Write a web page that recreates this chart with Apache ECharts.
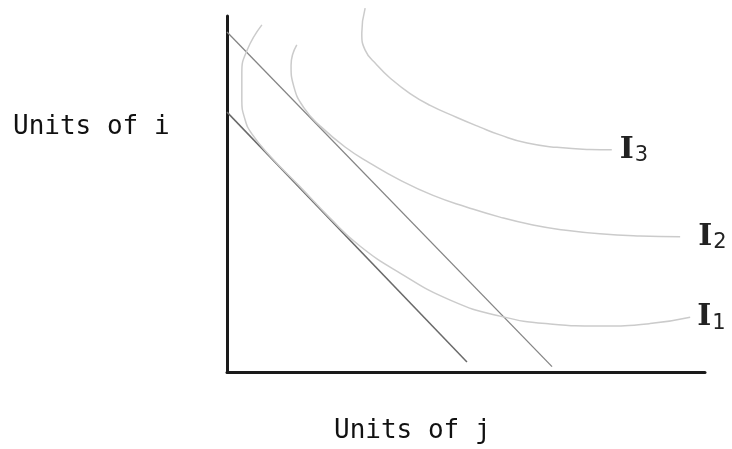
<!DOCTYPE html>
<html>
<head>
<meta charset="utf-8">
<script src="https://cdn.jsdelivr.net/npm/echarts@6/dist/echarts.min.js"></script>
<style>
	html,body{margin:0;padding:0;background:#fff;}
	#main{width:732px;height:449px;}
</style>
</head>
<body>
<div id="main"></div>
<script>
	// budget lines (units of j, units of i)
	var budgetLow = [[0, 73], [50.2, 2.8]];
	var budgetHigh = [[0, 95.5], [68, 1.5]];
	// indifference curves
	var curveI1 = [[7.3, 97.5], [4.2, 90.4], [3.1, 84.0], [3.1, 76.4], [3.8, 70.8], [5.2, 66.9],
		[9.0, 60.7], [15.3, 52.0], [21.5, 43.3], [27.8, 35.4], [36.2, 27.8], [46.7, 20.2],
		[57.1, 15.7], [67.6, 13.5], [78.0, 12.9], [88.5, 13.6], [96.9, 15.4]];
	var curveI2 = [[14.6, 91.9], [13.4, 86.2], [14.0, 80.1], [16.1, 74.2], [19.5, 69.1], [24.7, 63.2],
		[29.9, 58.7], [36.2, 53.9], [43.1, 49.6], [50.2, 46.3], [57.1, 43.5], [64.0, 41.3],
		[70.9, 39.8], [78.0, 38.8], [86.4, 38.2], [94.8, 38.0]];
	var curveI3 = [[28.9, 102.2], [28.2, 95.2], [28.9, 90.4], [31.4, 86.2], [34.1, 82.6], [38.3, 78.2],
		[42.5, 74.9], [48.1, 71.5], [52.9, 68.8], [57.1, 66.6], [62.8, 64.3], [69.0, 63.1],
		[75.9, 62.5], [80.5, 62.4]];
	var curveNames = ['1', '2', '3'];
	var xTitle = 'Units of j';
	var yTitle = 'Units of i';

	var chart = echarts.init(document.getElementById('main'));

	function curveLabel(sub, dist){
		return {
			show: true,
			distance: dist,
			formatter: '{i|I}{s|' + sub + '}',
			rich: {
				i: {fontFamily: 'DejaVu Serif', fontWeight: 'bold', fontSize: 30, color: '#222'},
				s: {fontFamily: 'DejaVu Sans', fontSize: 21, color: '#222', padding: [12, 0, 0, 1]}
			}
		};
	}

	function curve(data, sub, dist){
		return {
			type: 'line',
			data: data,
			smooth: 0.5,
			showSymbol: false,
			clip: false,
			silent: true,
			lineStyle: {color: '#cbcbcb', width: 1.5},
			endLabel: curveLabel(sub, dist)
		};
	}

	var option = {
		animation: false,
		backgroundColor: '#fff',
		grid: {left: 227, top: 16, right: 27, bottom: 77},
		xAxis: {
			type: 'value', min: 0, max: 100,
			axisLine: {lineStyle: {color: '#1a1a1a', width: 3}},
			axisTick: {show: false}, axisLabel: {show: false}, splitLine: {show: false}
		},
		yAxis: {
			type: 'value', min: 0, max: 100,
			axisLine: {show: true, lineStyle: {color: '#1a1a1a', width: 3}},
			axisTick: {show: false}, axisLabel: {show: false}, splitLine: {show: false}
		},
		graphic: [
			{type: 'text', left: 13, top: 114, style: {text: yTitle, font: '26px "DejaVu Sans Mono"', fill: '#111'}},
			{type: 'text', left: 334, top: 418, style: {text: xTitle, font: '26px "DejaVu Sans Mono"', fill: '#111'}}
		],
		series: [
			{type: 'line', data: budgetLow, showSymbol: false, silent: true,
				lineStyle: {color: '#6a6a6a', width: 1.5}},
			{type: 'line', data: budgetHigh, showSymbol: false, silent: true,
				lineStyle: {color: '#858585', width: 1.3}},
			curve(curveI1, curveNames[0], 7),
			curve(curveI2, curveNames[1], 18),
			curve(curveI3, curveNames[2], 8)
		]
	};
	chart.setOption(option);
</script>
</body>
</html>
